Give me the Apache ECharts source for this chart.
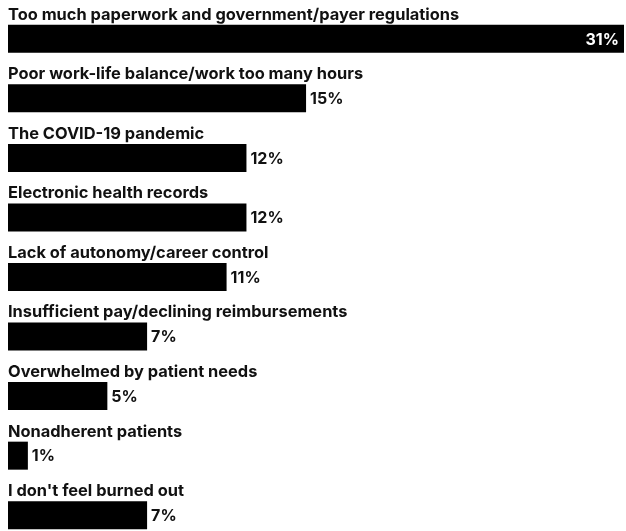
<!DOCTYPE html>
<html>
<head>
<meta charset="utf-8">
<script src="https://cdn.jsdelivr.net/npm/echarts@6/dist/echarts.min.js"></script>
<style>
html, body { margin: 0; padding: 0; background: #fff; }
#chart { width: 626px; height: 531px; }
</style>
</head>
<body>
<div id="chart"></div>
<script>
// 倦怠原因 横向条形图
var categories = [
    'Too much paperwork and government/payer regulations',
    'Poor work-life balance/work too many hours',
    'The COVID-19 pandemic',
    'Electronic health records',
    'Lack of autonomy/career control',
    'Insufficient pay/declining reimbursements',
    'Overwhelmed by patient needs',
    'Nonadherent patients',
    "I don't feel burned out"
];
var values = [31, 15, 12, 12, 11, 7, 5, 1, 7];

var myChart = echarts.init(document.getElementById('chart'));

var fontFamily = 'Inter';

var seriesData = values.map(function (v, i) {
    var item = { value: v };
    if (i === 0) {
        // 最长的条 数字放在条内
        item.label = { position: 'insideRight', color: '#fff', distance: 5 };
    }
    return item;
});

var option = {
    animation: false,
    grid: {
        left: 8,
        top: 9,
        width: 616,
        height: 536,
        containLabel: false,
        outerBoundsMode: 'none'
    },
    xAxis: {
        type: 'value',
        min: 0,
        max: 31,
        show: false
    },
    yAxis: {
        type: 'category',
        inverse: true,
        data: categories,
        axisLine: { show: false },
        axisTick: { show: false },
        splitLine: { show: false },
        axisLabel: {
            inside: true,
            margin: 0,
            color: '#111',
            fontFamily: fontFamily,
            fontSize: 16.4,
            fontWeight: 700,
            verticalAlign: 'bottom',
            lineHeight: 48
        }
    },
    series: [{
        type: 'bar',
        data: seriesData,
        barWidth: 28,
        itemStyle: { color: '#000' },
        label: {
            show: true,
            position: 'right',
            distance: 4,
            offset: [0, 1],
            formatter: '{c}%',
            color: '#111',
            fontFamily: fontFamily,
            fontSize: 16,
            fontWeight: 700
        }
    }]
};

myChart.setOption(option);

window.addEventListener('resize', function () {
    myChart.resize();
});
</script>
</body>
</html>
